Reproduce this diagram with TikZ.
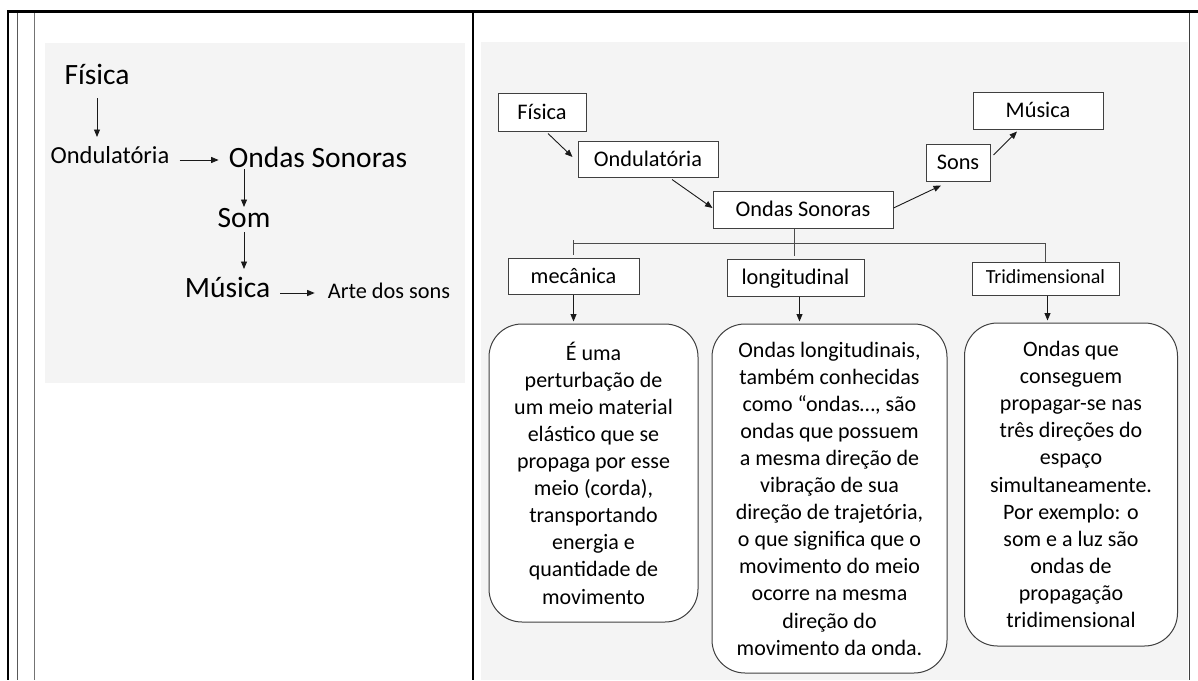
\documentclass[tikz,border=0pt]{standalone}
\usepackage{fontspec}
\setmainfont{Carlito}
\usetikzlibrary{arrows.meta}
\definecolor{panel}{RGB}{244,244,244}
\definecolor{edge}{RGB}{64,64,64}
\begin{document}
\begin{tikzpicture}[x=1pt,y=-1pt,
  arr/.style={draw=black!90, line width=0.9pt, -{Triangle[length=7.5pt,width=6pt]}},
  treeline/.style={draw=black!70, line width=0.9pt},
  big/.style={font=\fontsize{29.5}{35}\selectfont, inner sep=0pt, anchor=base, text depth=0pt},
  mid/.style={font=\fontsize{24.5}{29}\selectfont, inner sep=0pt, anchor=base, text depth=0pt},
  small/.style={font=\fontsize{22.3}{27}\selectfont, inner sep=0pt, anchor=base, text depth=0pt},
  box/.style={draw=edge, fill=white, line width=1pt, inner sep=0pt, text height=14pt, text depth=0pt, font=\fontsize{22.3}{27}\selectfont},
  rbox/.style={draw=edge, fill=white, line width=1pt, inner sep=0pt, rounded corners=33pt, align=center, font=\fontsize{22}{27.1}\selectfont}
]
\useasboundingbox (0,0) rectangle (1198,680);
\fill[white] (0,0) rectangle (1198,680);
% panels
\fill[panel] (45,43) rectangle (465,383);
\fill[panel] (481,42) rectangle (1188,680);
% frame
\draw[black, line width=3pt] (7,11.5) -- (1198,11.5);
\draw[black, line width=2pt] (7.5,10) -- (7.5,680);
\draw[black!65, line width=1pt] (17,13) -- (17,680);
\draw[black!55, line width=1pt] (34,13) -- (34,680);
\draw[black, line width=1.5pt] (473,13) -- (473,680);
\draw[black!75, line width=1pt] (1189.5,13) -- (1189.5,680);

% left panel
\node[big] (lfis) at (97,84) {Física};
\node[mid] (lond) at (110,163) {Ondulatória};
\node[big] (lons) at (318,167) {Ondas Sonoras};
\node[big] (lsom) at (244,227) {Som};
\node[big] (lmus) at (227.5,297) {Música};
\node[small] (larte) at (389,298) {Arte dos sons};
\draw[arr] ([yshift=-14pt]lfis.base) -- ([yshift=26pt]lfis.base |- lond.base);
\draw[arr] ([xshift=10pt,yshift=3pt]lond.base east) -- ([xshift=-10pt,yshift=7pt]lons.base west);
\draw[arr] ([yshift=-2pt]lsom.base |- lons.base) -- ([yshift=20pt]lsom.base);
\draw[arr] ([yshift=-5pt]lsom.base) -- ([yshift=28pt]lsom.base |- lmus.base);
\draw[arr] ([xshift=10pt,yshift=4pt]lmus.base east) -- ([xshift=-13pt,yshift=5pt]larte.base west);

% right panel
\node[box, minimum width=88pt, minimum height=38pt] (rfis) at (542,112) {Física};
\node[box, minimum width=140pt, minimum height=36pt] (rond) at (648,159) {Ondulatória};
\node[box, minimum width=180pt, minimum height=37pt] (ros) at (803,209.5) {Ondas Sonoras};
\node[box, minimum width=64pt, minimum height=37pt] (rsons) at (958,162.5) {Sons};
\node[box, minimum width=130pt, minimum height=37pt] (rmus) at (1038,110.5) {Música};
\node[box, minimum width=131pt, minimum height=36pt] (mec) at (573.5,276) {mecânica};
\node[box, minimum width=137pt, minimum height=37pt] (lon) at (795.5,277.5) {longitudinal};
\node[box, minimum width=147pt, minimum height=33pt, text height=10pt, font=\fontsize{20}{24}\selectfont] (tri) at (1045.5,278.5) {Tridimensional};

\node[rbox, minimum width=209pt, minimum height=298pt] (b1) at (593.5,473) {É uma\\perturbação de\\um meio material\\elástico que se\\propaga por esse\\meio (corda),\\transportando\\energia e\\quantidade de\\movimento};
\node[rbox, minimum width=235pt, minimum height=349pt] (b2) at (829.5,498.5) {Ondas longitudinais,\\também conhecidas\\como “ondas…, são\\ondas que possuem\\a mesma direção de\\vibração de sua\\direção de trajetória,\\o que significa que o\\movimento do meio\\ocorre na mesma\\direção do\\movimento da onda.};
\node[rbox, minimum width=213pt, minimum height=323pt] (b3) at (1071,484.5) {Ondas que\\conseguem\\propagar-se nas\\três direções do\\espaço\\simultaneamente.\\Por exemplo: o\\som e a luz são\\ondas de\\propagação\\tridimensional};

\draw[arr] ([xshift=6pt,yshift=-2pt]rfis.south) -- ([xshift=-5pt,yshift=2pt]rond.west);
\draw[arr] ([xshift=24pt,yshift=-2pt]rond.south) -- ([yshift=1.5pt]ros.west);
\draw[arr] ([yshift=1.5pt]ros.east) -- ([xshift=-17pt,yshift=-4pt]rsons.south);
\draw[arr] ([xshift=3pt,yshift=7.5pt]rsons.east) -- ([xshift=-21pt,yshift=-2pt]rmus.south);

\coordinate (tj) at (794,243);
\draw[treeline] ([xshift=-1.5pt]lon.north |- ros.south) -- ([xshift=-1.5pt,yshift=3pt]lon.north);
\draw[treeline] (mec.north |- tj) -- (tri.north |- tj) -- (tri.north);
\draw[treeline] ([yshift=3pt]mec.north |- tj) -- ([yshift=3pt]mec.north);

\draw[arr] (mec.south) -- ([yshift=2pt]mec.south |- b1.north);
\draw[arr] ([xshift=4pt]lon.south) -- ([xshift=4pt,yshift=2pt]lon.south |- b2.north);
\draw[arr] ([xshift=2pt]tri.south) -- ([xshift=2pt,yshift=2pt]tri.south |- b3.north);
\end{tikzpicture}
\end{document}
